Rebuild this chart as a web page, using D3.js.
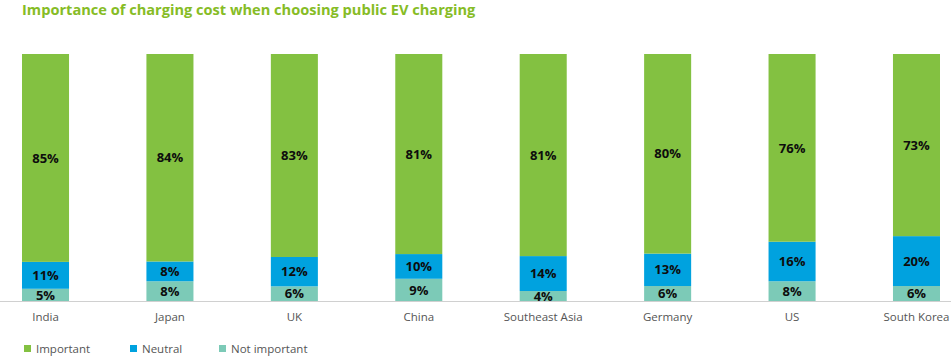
<!DOCTYPE html>
<html><head><meta charset="utf-8">
<script src="https://cdn.jsdelivr.net/npm/d3@7"></script>
<style>body{margin:0;background:#fff;}svg{display:block;font-family:"Open Sans",sans-serif;}</style>
</head><body>
<svg id="chart" width="951" height="357"></svg>
<script>
const categories = ["India","Japan","UK","China","Southeast Asia","Germany","US","South Korea"];
const important = [85,84,83,81,81,80,76,73];
const neutral = [11,8,12,10,14,13,16,20];
const notImportant = [5,8,6,9,4,6,8,6];
const seriesNames = ["Not important","Neutral","Important"];
const legendOrder = ["Important","Neutral","Not important"];
const colors = {"Important":"#83c141","Neutral":"#00a2df","Not important":"#7ccab7"};

const rows = categories.map((c,i)=>({cat:c,"Important":important[i],"Neutral":neutral[i],"Not important":notImportant[i]}));
const svg = d3.select("#chart");
const x = d3.scaleBand().domain(categories).range([22,940]).paddingInner(0.622).paddingOuter(0);
const y = d3.scaleLinear().domain([0,1]).range([301,54]);
const stack = d3.stack().keys(seriesNames).offset(d3.stackOffsetExpand);
const layers = stack(rows);

svg.append("text").attr("x",22).attr("y",15).attr("fill","#86bc25")
  .attr("font-size",14.6).attr("font-weight",700).text("Importance of charging cost when choosing public EV charging");

const g = svg.append("g");
layers.forEach(layer=>{
  const key = layer.key;
  g.selectAll(null).data(layer).enter().append("rect")
    .attr("x",d=>x(d.data.cat)).attr("width",x.bandwidth())
    .attr("y",d=>y(d[1])).attr("height",d=>y(d[0])-y(d[1]))
    .attr("fill",colors[key]);
  g.selectAll(null).data(layer).enter().append("text")
    .attr("x",d=>x(d.data.cat)+x.bandwidth()/2)
    .attr("y",d=>(y(d[0])+y(d[1]))/2)
    .attr("dy","0.36em").attr("text-anchor","middle")
    .attr("font-size",13).attr("font-weight",700).attr("fill","#0d0d0d")
    .text(d=>d.data[key]+"%");
});

const axis = d3.axisBottom(x).tickSize(0).tickPadding(12);
const ag = svg.append("g").attr("transform","translate(0,301)").call(axis);
ag.select(".domain").remove();
ag.selectAll("text").attr("font-size",11.5).attr("fill","#555").attr("font-family","Open Sans, sans-serif");
svg.append("line").attr("x1",0).attr("x2",951).attr("y1",301.5).attr("y2",301.5).attr("stroke","#d0d0d0").attr("stroke-width",1);

const legX = [24,130,219];
const lg = svg.append("g");
legendOrder.forEach((k,i)=>{
  lg.append("rect").attr("x",legX[i]).attr("y",345).attr("width",7).attr("height",7).attr("fill",colors[k]);
  lg.append("text").attr("x",legX[i]+12).attr("y",353).attr("font-size",11.5).attr("fill","#555").text(k);
});
</script>
</body></html>
